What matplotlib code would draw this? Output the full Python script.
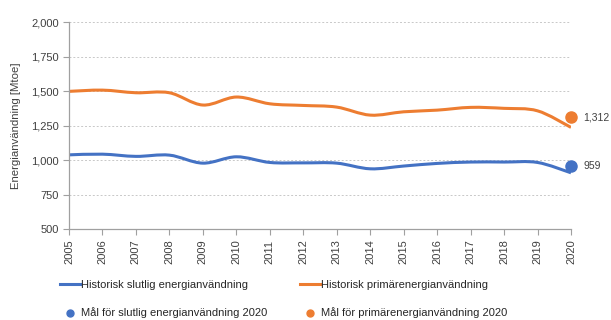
import numpy as np
import matplotlib.pyplot as plt
from matplotlib.path import Path
from matplotlib.patches import PathPatch
from matplotlib.lines import Line2D

plt.rcParams['font.family'] = ['Liberation Sans', 'DejaVu Sans']

years = list(range(2005, 2021))
final_use = [1038, 1043, 1027, 1036, 978, 1024, 983, 980, 978, 937, 957, 976, 986, 986, 983, 908]
primary_use = [1498, 1507, 1488, 1488, 1399, 1457, 1408, 1396, 1384, 1326, 1350, 1362, 1382, 1375, 1357, 1237]
target_year = 2020
final_target = 959
primary_target = 1312

BLUE = '#4472C4'
ORANGE = '#ED7D31'


def smooth_path(x, y, tension=1 / 6):
    """Bezier path through the points, like a spreadsheet 'smoothed line'"""
    x = np.asarray(x, float)
    y = np.asarray(y, float)
    verts = [(x[0], y[0])]
    codes = [Path.MOVETO]
    n = len(x)
    for i in range(n - 1):
        x0, y0 = (x[i - 1], y[i - 1]) if i > 0 else (x[i], y[i])
        x3, y3 = (x[i + 2], y[i + 2]) if i + 2 < n else (x[i + 1], y[i + 1])
        c1 = (x[i] + (x[i + 1] - x0) * tension, y[i] + (y[i + 1] - y0) * tension)
        c2 = (x[i + 1] - (x3 - x[i]) * tension, y[i + 1] - (y3 - y[i]) * tension)
        verts += [c1, c2, (x[i + 1], y[i + 1])]
        codes += [Path.CURVE4] * 3
    return Path(verts, codes)


fig = plt.figure(figsize=(6.11, 3.2), dpi=100)
ax = fig.add_axes([0.1129, 0.284, 0.8216, 0.647])

for vals, col in [(final_use, BLUE), (primary_use, ORANGE)]:
    ax.add_patch(PathPatch(smooth_path(years, vals), facecolor='none',
                           edgecolor=col, lw=2.2, capstyle='butt'))

ax.plot([target_year], [final_target], 'o', color=BLUE, ms=8, zorder=5, clip_on=False)
ax.plot([target_year], [primary_target], 'o', color=ORANGE, ms=8, zorder=5, clip_on=False)
ax.annotate(f'{final_target:,}', (target_year, final_target), xytext=(9, 0),
            textcoords='offset points', va='center', fontsize=7.5, color='#404040')
ax.annotate(f'{primary_target:,}', (target_year, primary_target), xytext=(9, 0),
            textcoords='offset points', va='center', fontsize=7.5, color='#404040')

ax.set_xlim(2005, 2020)
ax.set_ylim(500, 2000)
ax.set_xticks(years)
ax.set_xticklabels([str(y) for y in years], rotation=90)
ax.set_yticks(range(500, 2001, 250))
ax.set_yticklabels([f'{v:,}' for v in range(500, 2001, 250)])
ax.tick_params(labelsize=8, colors='#404040', length=4, width=0.8)
ax.tick_params(axis='x', color='#a0a0a0')
ax.tick_params(axis='y', color='#a0a0a0')
ax.yaxis.grid(True, ls=(0, (2, 2)), color='#c8c8c8', lw=0.7)
ax.set_axisbelow(True)
for s in ['top', 'right']:
    ax.spines[s].set_visible(False)
for s in ['left', 'bottom']:
    ax.spines[s].set_color('#a0a0a0')
    ax.spines[s].set_linewidth(0.9)
ax.set_ylabel('Energianvändning [Mtoe]', fontsize=8.2, color='#404040', labelpad=7)

# two legend columns, placed separately
leg_kw = dict(loc='upper left', frameon=False, fontsize=8, handlelength=1.8,
              handletextpad=0.1, labelspacing=1.55, borderpad=0, borderaxespad=0,
              labelcolor='#262626')
fig.legend([Line2D([], [], color=BLUE, lw=2.2),
            Line2D([], [], color=BLUE, marker='o', ls='none', ms=5)],
           ['Historisk slutlig energianvändning', 'Mål för slutlig energianvändning 2020'],
           bbox_to_anchor=(60 / 611, 0.124), **leg_kw)
fig.legend([Line2D([], [], color=ORANGE, lw=2.2),
            Line2D([], [], color=ORANGE, marker='o', ls='none', ms=5)],
           ['Historisk primärenergianvändning', 'Mål för primärenergianvändning 2020'],
           bbox_to_anchor=(300 / 611, 0.124), **leg_kw)

fig.savefig('out.png', dpi=100)
